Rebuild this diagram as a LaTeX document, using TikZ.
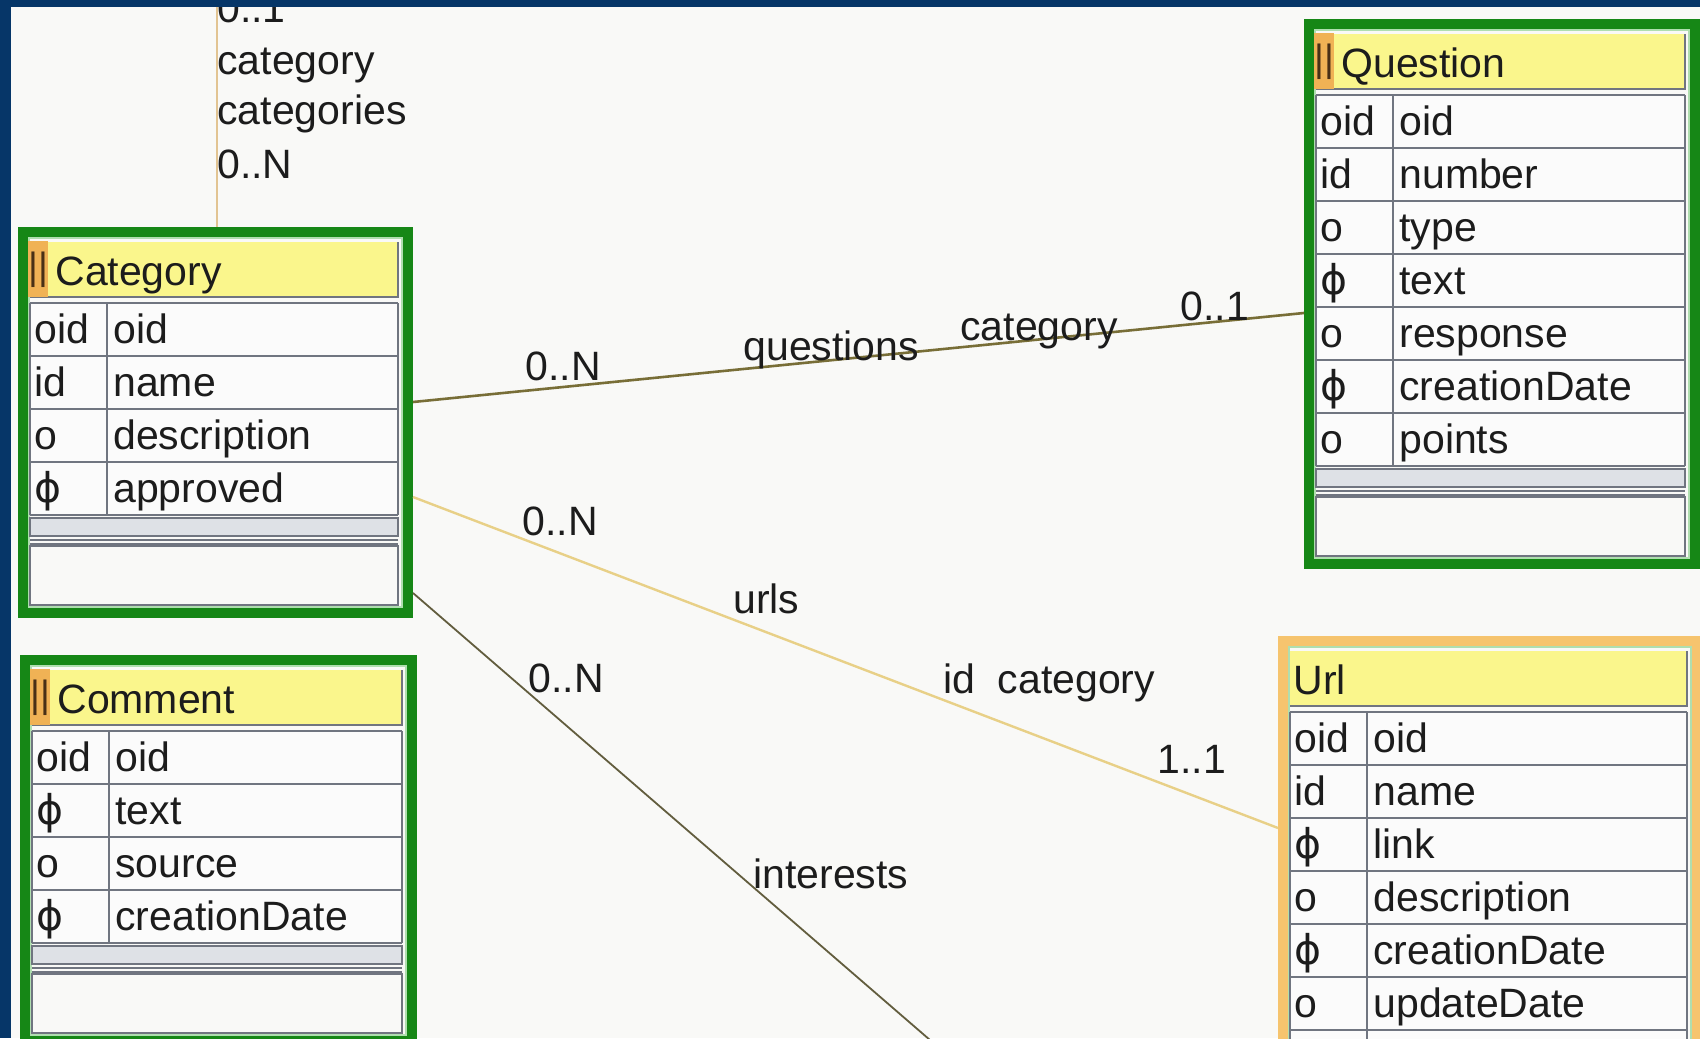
\documentclass[tikz,border=0pt]{standalone}
\usepackage{fontspec}
\setmainfont{Liberation Sans}
\newfontfamily\phifont{DejaVu Sans}
\usetikzlibrary{calc}
\definecolor{frameblue}{RGB}{6,54,104}
\definecolor{bgwhite}{RGB}{249,249,247}
\definecolor{rowwhite}{RGB}{251,251,251}
\definecolor{boxgreen}{RGB}{22,135,22}
\definecolor{lightgreen}{RGB}{175,222,175}
\definecolor{hdryellow}{RGB}{250,246,140}
\definecolor{markorange}{RGB}{240,178,85}
\definecolor{urlorange}{RGB}{246,196,110}
\definecolor{gridgray}{RGB}{112,117,128}
\definecolor{barfill}{RGB}{222,225,230}
\definecolor{txt}{RGB}{28,28,28}
\definecolor{qlinecol}{RGB}{120,110,55}
\definecolor{ulinecol}{RGB}{232,208,135}
\definecolor{vlinecol}{RGB}{226,196,146}
\definecolor{ilinecol}{RGB}{98,93,62}
\newcommand{\ph}{{\phifont ϕ}}
\tikzset{
  boxframe/.style={draw=none, inner sep=0pt, outer sep=0pt, anchor=north west},
  gridline/.style={draw=gridgray, line width=1pt},
  celltext/.style={inner sep=0pt, anchor=base west, text=txt, font=\fontsize{20.5}{24}\selectfont},
  marktext/.style={inner sep=0pt, text=txt!80!orange, font=\fontsize{19}{24}\selectfont},
  lbl/.style={inner sep=0pt, anchor=base west, text=txt, font=\fontsize{20.5}{24}\selectfont},
  qline/.style={draw=qlinecol, line width=1.3pt},
  uline/.style={draw=ulinecol, line width=1.2pt},
  iline/.style={draw=ilinecol, line width=0.9pt},
  vline/.style={draw=vlinecol, line width=1.3pt},
}
% #1 name, #2 x0, #3 y0, #4 W, #5 rows, #6 border colour
\newcommand{\entframe}[6]{%
  \pgfmathsetmacro{\hh}{179+53*#5}%
  \pgfmathsetmacro{\rtop}{#3+76}%
  \pgfmathsetmacro{\rend}{#3+76+53*#5}%
  \pgfmathsetmacro{\xl}{#2+12}%
  \pgfmathsetmacro{\xr}{#2+#4-15}%
  \pgfmathsetmacro{\xd}{#2+89}%
  \node[boxframe, fill=#6, minimum width={#4*0.5pt}, minimum height={\hh*0.5pt}] (#1) at (#2,#3) {};
  \fill[bgwhite] (#2+10,#3+10) rectangle (#2+#4-10,#3+\hh-10);
  \draw[lightgreen, line width=0.6pt] (#2+11,#3+11) rectangle (#2+#4-11,#3+\hh-11);
  \fill[hdryellow] (\xl,#3+15) rectangle (\xr,#3+70);
  \draw[gridgray, line width=1pt] (\xl,#3+70) -- (\xr,#3+70) -- (\xr,#3+15);
  \fill[rowwhite] (\xl,\rtop) rectangle (\xr,\rend);
  \foreach \k in {0,...,#5} {\draw[gridline] (\xl,\rtop+53*\k) -- (\xr,\rtop+53*\k);}
  \draw[gridline] (\xl,\rtop) -- (\xl,\rend) (\xr,\rtop) -- (\xr,\rend) (\xd,\rtop) -- (\xd,\rend);
  \filldraw[fill=barfill, draw=gridgray, line width=0.6pt] (\xl,\rend+3) rectangle (\xr,\rend+21);
  \draw[gridline] (\xl,\rend+25) -- (\xr,\rend+25);
  \draw[gridline] (\xl,\rend+29) -- (\xr,\rend+29);
  \draw[gridgray, line width=0.6pt] (\xl,\rend+31) rectangle (\xr,\rend+90);
}
% #1 name, #2 x0, #3 y0
\newcommand{\entmark}[3]{%
  \fill[markorange] (#2+10,#3+14) rectangle (#2+30,#3+70);
  \node[marktext] (#1-mk) at (#2+20,#3+43) {||};
}
% #1 name, #2 x, #3 y0, #4 title
\newcommand{\enttitle}[4]{%
  \node[celltext] (#1-t) at (#2,#3+58) {#4};
}
% #1 name, #2 x0, #3 y0, #4 row index, #5 kind, #6 attribute
\newcommand{\erow}[6]{%
  \node[celltext] (#1-a#4) at (#2+16,#3+63+53*#4) {#5};
  \node[celltext] (#1-b#4) at (#2+95,#3+63+53*#4) {#6};
}
\begin{document}
\begin{tikzpicture}[x=0.5pt, y=-0.5pt]
\useasboundingbox (0,0) rectangle (1700,1038);
\clip (0,0) rectangle (1700,1038);
\fill[bgwhite] (0,0) rectangle (1700,1038);

% ---------- Category ----------
\entframe{cat}{18}{227}{395}{4}{boxgreen}
\entmark{cat}{18}{227}
\enttitle{cat}{55}{227}{Category}
\erow{cat}{18}{227}{1}{oid}{oid}
\erow{cat}{18}{227}{2}{id}{name}
\erow{cat}{18}{227}{3}{o}{description}
\erow{cat}{18}{227}{4}{\ph}{approved}

% ---------- Comment ----------
\entframe{com}{20}{655}{397}{4}{boxgreen}
\entmark{com}{20}{655}
\enttitle{com}{57}{655}{Comment}
\erow{com}{20}{655}{1}{oid}{oid}
\erow{com}{20}{655}{2}{\ph}{text}
\erow{com}{20}{655}{3}{o}{source}
\erow{com}{20}{655}{4}{\ph}{creationDate}

% ---------- Question ----------
\entframe{que}{1304}{19}{396}{7}{boxgreen}
\entmark{que}{1304}{19}
\enttitle{que}{1341}{19}{Question}
\erow{que}{1304}{19}{1}{oid}{oid}
\erow{que}{1304}{19}{2}{id}{number}
\erow{que}{1304}{19}{3}{o}{type}
\erow{que}{1304}{19}{4}{\ph}{text}
\erow{que}{1304}{19}{5}{o}{response}
\erow{que}{1304}{19}{6}{\ph}{creationDate}
\erow{que}{1304}{19}{7}{o}{points}

% ---------- Url ----------
\entframe{url}{1278}{636}{424}{7}{urlorange}
\enttitle{url}{1293}{636}{Url}
\erow{url}{1278}{636}{1}{oid}{oid}
\erow{url}{1278}{636}{2}{id}{name}
\erow{url}{1278}{636}{3}{\ph}{link}
\erow{url}{1278}{636}{4}{o}{description}
\erow{url}{1278}{636}{5}{\ph}{creationDate}
\erow{url}{1278}{636}{6}{o}{updateDate}

% ---------- connectors ----------
\coordinate (topEnd) at (217,0);
\coordinate (intEnd) at (930,1040);
\draw[vline] (topEnd) -- ($(cat.north west)+(199,0)$);
\draw[qline] ($(cat.north east)+(0,175)$) -- ($(que.north west)+(0,294)$);
\draw[uline] ($(cat.north east)+(0,270)$) -- ($(url.north west)+(0,192)$);
\draw[iline] ($(cat.north east)+(0,366)$) -- (intEnd);

% ---------- connector labels ----------
\node[lbl] (l01top) at (217,23) {0..1};
\node[lbl] (lcat1) at (217,75) {category};
\node[lbl] (lcats) at (217,125) {categories};
\node[lbl] (l0Ntop) at (217,178) {0..N};

\node[lbl] (lq0N) at (525,380) {0..N};
\node[lbl] (lqs) at (743,360) {questions};
\node[lbl] (lqcat) at (960,340) {category};
\node[lbl] (lq01) at (1180,320) {0..1};

\node[lbl] (lu0N) at (522,535) {0..N};
\node[lbl] (lurls) at (733,613) {urls};
\node[lbl] (lucat) at (943,693) {id\hspace{0.55em}category};
\node[lbl] (lu11) at (1157,773) {1..1};

\node[lbl] (li0N) at (528,692) {0..N};
\node[lbl] (lint) at (753,888) {interests};

% ---------- blue frame ----------
\fill[frameblue] (0,0) rectangle (1700,7);
\fill[frameblue] (0,0) rectangle (11,1038);
\end{tikzpicture}
\end{document}
